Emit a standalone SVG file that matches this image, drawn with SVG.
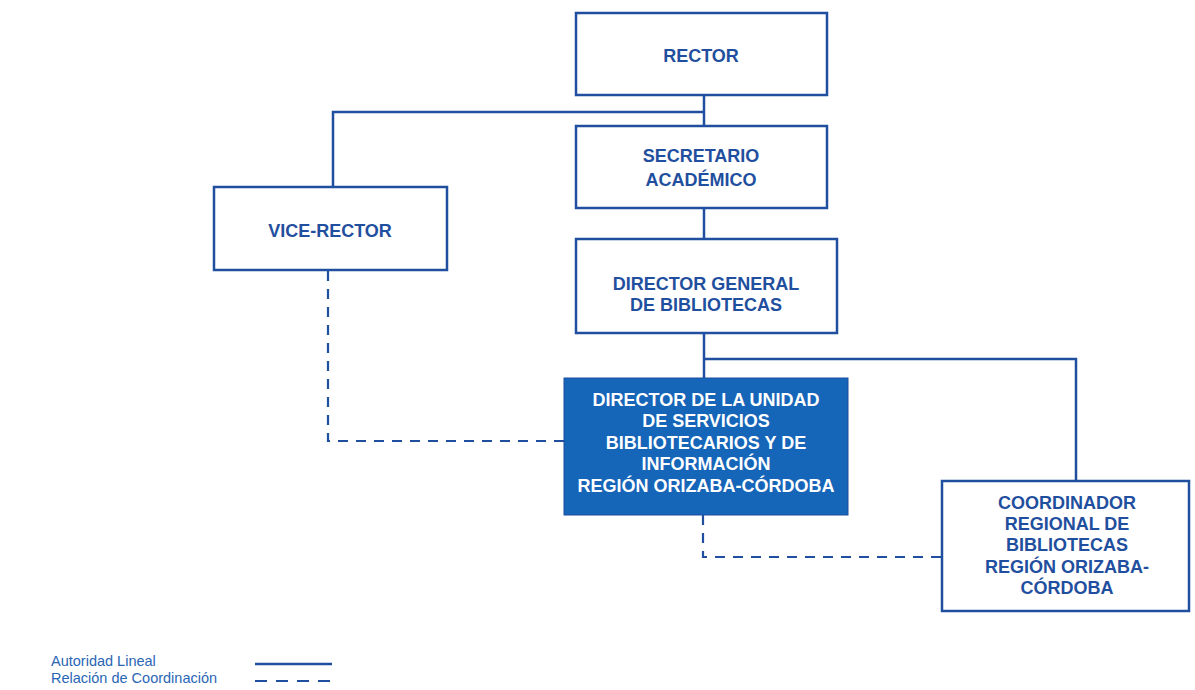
<svg xmlns="http://www.w3.org/2000/svg" width="1195" height="690" viewBox="0 0 1195 690">
<style>
.box{fill:#fff;stroke:#1f4f9e;stroke-width:2.5}
.fill{fill:#1565b8;stroke:#1f4f9e;stroke-width:1}
.t{font-family:"Liberation Sans",Arial,sans-serif;font-weight:bold;font-size:18px;fill:#1f4f9e;text-anchor:middle}
.w{fill:#fff}
.ln{fill:none;stroke:#1f4f9e;stroke-width:2.5}
.dash{fill:none;stroke:#1f4f9e;stroke-width:2.2;stroke-dasharray:10,8}
.lg{font-family:"Liberation Sans",Arial,sans-serif;font-size:14.5px;fill:#2a66b5}
</style>
<g id="connectors">
<polyline class="ln" points="704,95 704,126"/>
<polyline class="ln" points="704,112 333,112 333,187"/>
<polyline class="ln" points="704,208 704,239"/>
<polyline class="ln" points="704,333 704,378"/>
<polyline class="ln" points="704,359 1076,359 1076,481"/>
<polyline class="dash" points="328,271 328,441 564,441"/>
<polyline class="dash" points="703,515 703,557 942,557"/>
</g>
<g id="rector">
<rect class="box" x="576" y="13" width="251" height="82"/>
<text class="t" x="701" y="62">RECTOR</text>
</g>
<g id="secretario">
<rect class="box" x="576" y="126" width="251" height="82"/>
<text class="t" x="701" y="162">SECRETARIO</text>
<text class="t" x="701" y="186">ACADÉMICO</text>
</g>
<g id="vicerrector">
<rect class="box" x="214" y="187" width="233" height="83"/>
<text class="t" x="330" y="237">VICE-RECTOR</text>
</g>
<g id="director-general">
<rect class="box" x="576" y="239" width="261" height="94"/>
<text class="t" x="706" y="290">DIRECTOR GENERAL</text>
<text class="t" x="706" y="311">DE BIBLIOTECAS</text>
</g>
<g id="director-unidad">
<rect class="fill" x="564" y="378" width="284" height="137"/>
<text class="t w" x="706" y="406">DIRECTOR DE LA UNIDAD</text>
<text class="t w" x="706" y="427">DE SERVICIOS</text>
<text class="t w" x="706" y="449">BIBLIOTECARIOS Y DE</text>
<text class="t w" x="706" y="470">INFORMACIÓN</text>
<text class="t w" x="706" y="492">REGIÓN ORIZABA-CÓRDOBA</text>
</g>
<g id="coordinador">
<rect class="box" x="942" y="481" width="247" height="130"/>
<text class="t" x="1067" y="509">COORDINADOR</text>
<text class="t" x="1067" y="530">REGIONAL DE</text>
<text class="t" x="1067" y="551">BIBLIOTECAS</text>
<text class="t" x="1067" y="573">REGIÓN ORIZABA-</text>
<text class="t" x="1067" y="594">CÓRDOBA</text>
</g>
<g id="legend">
<text class="lg" x="51" y="666">Autoridad Lineal</text>
<text class="lg" x="51" y="683">Relación de Coordinación</text>
<line class="ln" x1="255" y1="664" x2="332" y2="664"/>
<line class="dash" x1="255" y1="681" x2="332" y2="681" style="stroke-dasharray:12,9"/>
</g>
</svg>
